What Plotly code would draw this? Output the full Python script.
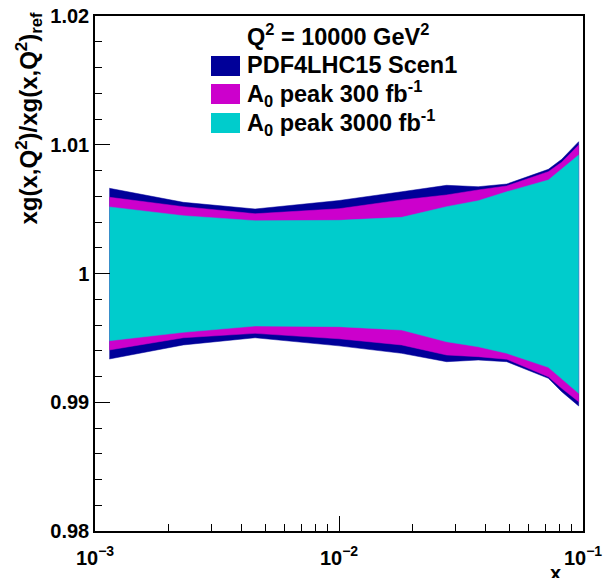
import plotly.graph_objects as go

# ---- data ----
x_vals = [0.001145, 0.00230, 0.00453, 0.0100, 0.01807, 0.0276, 0.0372, 0.0487, 0.0721, 0.0818, 0.0960]

scen1_hi = [1.00662, 1.00553, 1.00501, 1.00567, 1.00635, 1.00685, 1.00674, 1.00695, 1.00809, 1.00887, 1.01024]
scen1_lo = [0.99336, 0.99445, 0.99501, 0.99438, 0.99380, 0.99315, 0.99328, 0.99315, 0.99186, 0.99082, 0.98971]

a300_hi = [1.00592, 1.00519, 1.00464, 1.00503, 1.00571, 1.00610, 1.00649, 1.00680, 1.00791, 1.00864, 1.00998]
a300_lo = [0.99406, 0.99501, 0.99535, 0.99493, 0.99445, 0.99367, 0.99354, 0.99334, 0.99198, 0.99108, 0.99004]

a3000_hi = [1.00517, 1.00449, 1.00410, 1.00413, 1.00436, 1.00519, 1.00565, 1.00635, 1.00726, 1.00812, 1.00920]
a3000_lo = [0.99478, 0.99543, 0.99592, 0.99587, 0.99561, 0.99470, 0.99431, 0.99380, 0.99271, 0.99183, 0.99069]

series_names = ["PDF4LHC15 Scen1", "A<sub>0</sub> peak 300 fb<sup>-1</sup>", "A<sub>0</sub> peak 3000 fb<sup>-1</sup>"]
series_colors = ["#000099", "#CC00CC", "#00CCCC"]

x_tickvals = [0.001, 0.01, 0.1]
x_ticktext = ["10<sup>\u22123</sup>", "10<sup>\u22122</sup>", "10<sup>\u22121</sup>"]
y_tickvals = [0.98, 0.99, 1.0, 1.01, 1.02]
y_ticktext = ["0.98", "0.99", "1", "1.01", "1.02"]

header = "Q<sup>2</sup> = 10000 GeV<sup>2</sup>"
y_title = "xg(x,Q<sup>2</sup>)/xg(x,Q<sup>2</sup>)<sub>ref</sub>"
x_title = "x"

FONT = "Liberation Sans"

fig = go.Figure()
bands = [(scen1_hi, scen1_lo), (a300_hi, a300_lo), (a3000_hi, a3000_lo)]
for (hi, lo), name, col in zip(bands, series_names, series_colors):
    fig.add_trace(go.Scatter(
        x=x_vals + x_vals[::-1],
        y=hi + lo[::-1],
        fill="toself", fillcolor=col, mode="lines",
        line=dict(color=col, width=0.5),
        name=name, showlegend=False, hoverinfo="skip",
    ))

minor_x = [m * 10 ** e for e in (-3, -2) for m in range(2, 10)]

fig.update_layout(
    width=615, height=578,
    margin=dict(l=95, r=32, t=16, b=47, autoexpand=False),
    plot_bgcolor="white", paper_bgcolor="white",
    font=dict(family=FONT, color="black"),
    xaxis=dict(
        type="log", range=[-3, -1], automargin=False,
        showgrid=False, zeroline=False,
        showline=True, linecolor="black", linewidth=1.5, mirror=True,
        ticks="inside", ticklen=15, tickwidth=1.2, tickcolor="black",
        tickvals=x_tickvals, ticktext=x_ticktext, ticklabelstandoff=8,
        tickfont=dict(family=FONT, size=20, color="black", weight="bold"),
        minor=dict(ticks="inside", ticklen=7, tickwidth=1.2, tickcolor="black", tickvals=minor_x),
    ),
    yaxis=dict(
        range=[0.98, 1.02], automargin=False,
        showgrid=False, zeroline=False,
        showline=True, linecolor="black", linewidth=1.5, mirror=True,
        ticks="inside", ticklen=15, tickwidth=1.2, tickcolor="black",
        tickvals=y_tickvals, ticktext=y_ticktext,
        tickfont=dict(family=FONT, size=20, color="black", weight="bold"),
        minor=dict(ticks="inside", ticklen=7, tickwidth=1.2, tickcolor="black", dtick=0.002, tick0=0.98),
    ),
)

def px_x(px):
    return (px - 95) / 488.0

def px_y(py):
    return 1 - (py - 16) / 515.0

# legend swatches
sw_rows = [(56, 76), (84, 104), (113, 133)]
for (t, b), col in zip(sw_rows, series_colors):
    fig.add_shape(type="rect", xref="paper", yref="paper",
                  x0=px_x(211), x1=px_x(240), y0=px_y(b), y1=px_y(t),
                  fillcolor=col, line=dict(width=0))

# legend texts
text_rows = [65, 93, 122]
for cy, name in zip(text_rows, series_names):
    fig.add_annotation(xref="paper", yref="paper", x=px_x(245), y=px_y(cy),
                       xanchor="left", yanchor="middle", showarrow=False,
                       text="<b>" + name + "</b>",
                       font=dict(family=FONT, size=23.5, color="black"))

fig.add_annotation(xref="paper", yref="paper", x=px_x(245), y=px_y(35),
                   xanchor="left", yanchor="middle", showarrow=False,
                   text="<b>" + header + "</b>",
                   font=dict(family=FONT, size=23.5, color="black"))

# y title (top aligned as in ROOT)
fig.add_annotation(xref="paper", yref="paper", x=0, y=1, xshift=-67, yshift=6,
                   xanchor="center", yanchor="top", textangle=-90, showarrow=False,
                   text="<b>" + y_title + "</b>",
                   font=dict(family=FONT, size=24, color="black"))

# x title
fig.add_annotation(xref="paper", yref="paper", x=px_x(555), y=0, yshift=-29,
                   xanchor="center", yanchor="top", showarrow=False,
                   text="<b>" + x_title + "</b>",
                   font=dict(family=FONT, size=20, color="black"))

fig.write_html("out.html", config={"displayModeBar": False},
               post_script="document.body.style.margin='0';")
